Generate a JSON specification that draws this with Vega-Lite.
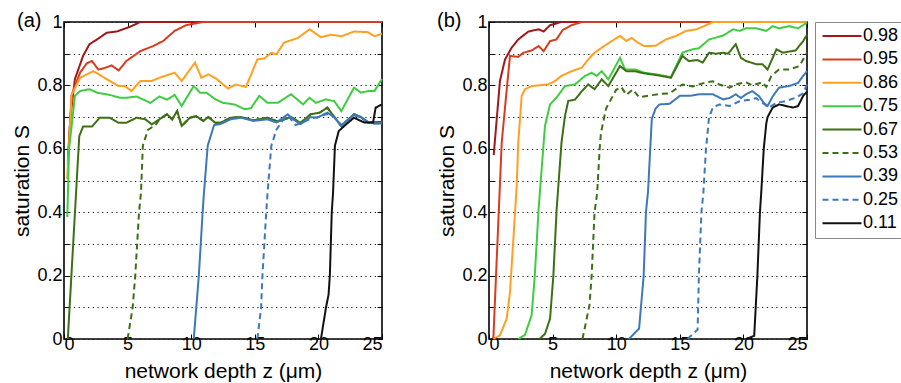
{
  "$schema": "https://vega.github.io/schema/vega-lite/v6.json",
  "padding": {"left": 11, "top": 10, "right": 0, "bottom": 0},
  "background": "white",
  "datasets": {
    "d": [
      {"p":"a","s":"0.98","z":0.3,"S":0.55},{"p":"a","s":"0.98","z":0.5,"S":0.7},{"p":"a","s":"0.98","z":0.86,"S":0.82},{"p":"a","s":"0.98","z":1.5,"S":0.893},{"p":"a","s":"0.98","z":2.0,"S":0.93},{"p":"a","s":"0.98","z":2.6,"S":0.945},{"p":"a","s":"0.98","z":3.35,"S":0.966},{"p":"a","s":"0.98","z":4.15,"S":0.97},{"p":"a","s":"0.98","z":4.5,"S":0.975},{"p":"a","s":"0.98","z":5.2,"S":0.985},{"p":"a","s":"0.98","z":6.0,"S":1.0},{"p":"a","s":"0.98","z":25,"S":1.0},
      {"p":"a","s":"0.95","z":0.3,"S":0.56},{"p":"a","s":"0.95","z":0.6,"S":0.77},{"p":"a","s":"0.95","z":1.26,"S":0.84},{"p":"a","s":"0.95","z":1.8,"S":0.87},{"p":"a","s":"0.95","z":2.2,"S":0.877},{"p":"a","s":"0.95","z":2.7,"S":0.85},{"p":"a","s":"0.95","z":3.2,"S":0.855},{"p":"a","s":"0.95","z":3.75,"S":0.863},{"p":"a","s":"0.95","z":4.3,"S":0.847},{"p":"a","s":"0.95","z":4.9,"S":0.877},{"p":"a","s":"0.95","z":6.0,"S":0.908},{"p":"a","s":"0.95","z":7.0,"S":0.924},{"p":"a","s":"0.95","z":7.8,"S":0.94},{"p":"a","s":"0.95","z":8.7,"S":0.972},{"p":"a","s":"0.95","z":9.6,"S":0.99},{"p":"a","s":"0.95","z":10.95,"S":1.0},{"p":"a","s":"0.95","z":25,"S":1.0},
      {"p":"a","s":"0.86","z":0.25,"S":0.505},{"p":"a","s":"0.86","z":0.6,"S":0.77},{"p":"a","s":"0.86","z":1.26,"S":0.824},{"p":"a","s":"0.86","z":2.3,"S":0.845},{"p":"a","s":"0.86","z":3.35,"S":0.82},{"p":"a","s":"0.86","z":4.3,"S":0.798},{"p":"a","s":"0.86","z":4.8,"S":0.798},{"p":"a","s":"0.86","z":5.3,"S":0.782},{"p":"a","s":"0.86","z":6.0,"S":0.814},{"p":"a","s":"0.86","z":6.9,"S":0.814},{"p":"a","s":"0.86","z":7.5,"S":0.824},{"p":"a","s":"0.86","z":8.3,"S":0.835},{"p":"a","s":"0.86","z":8.7,"S":0.84},{"p":"a","s":"0.86","z":9.25,"S":0.814},{"p":"a","s":"0.86","z":10.3,"S":0.872},{"p":"a","s":"0.86","z":10.8,"S":0.824},{"p":"a","s":"0.86","z":11.35,"S":0.835},{"p":"a","s":"0.86","z":12.0,"S":0.82},{"p":"a","s":"0.86","z":12.5,"S":0.803},{"p":"a","s":"0.86","z":12.9,"S":0.79},{"p":"a","s":"0.86","z":13.5,"S":0.803},{"p":"a","s":"0.86","z":14.3,"S":0.795},{"p":"a","s":"0.86","z":15.2,"S":0.882},{"p":"a","s":"0.86","z":15.75,"S":0.885},{"p":"a","s":"0.86","z":16.3,"S":0.903},{"p":"a","s":"0.86","z":16.7,"S":0.898},{"p":"a","s":"0.86","z":17.3,"S":0.935},{"p":"a","s":"0.86","z":18.4,"S":0.95},{"p":"a","s":"0.86","z":19.3,"S":0.977},{"p":"a","s":"0.86","z":20.2,"S":0.952},{"p":"a","s":"0.86","z":21.0,"S":0.96},{"p":"a","s":"0.86","z":21.8,"S":0.955},{"p":"a","s":"0.86","z":22.8,"S":0.97},{"p":"a","s":"0.86","z":23.9,"S":0.968},{"p":"a","s":"0.86","z":24.4,"S":0.955},{"p":"a","s":"0.86","z":25,"S":0.963},
      {"p":"a","s":"0.75","z":0.26,"S":0.385},{"p":"a","s":"0.75","z":0.4,"S":0.6},{"p":"a","s":"0.75","z":0.86,"S":0.767},{"p":"a","s":"0.75","z":1.26,"S":0.782},{"p":"a","s":"0.75","z":2.0,"S":0.788},{"p":"a","s":"0.75","z":2.6,"S":0.777},{"p":"a","s":"0.75","z":3.6,"S":0.77},{"p":"a","s":"0.75","z":4.4,"S":0.761},{"p":"a","s":"0.75","z":4.9,"S":0.761},{"p":"a","s":"0.75","z":5.7,"S":0.765},{"p":"a","s":"0.75","z":6.8,"S":0.745},{"p":"a","s":"0.75","z":7.5,"S":0.765},{"p":"a","s":"0.75","z":8.1,"S":0.755},{"p":"a","s":"0.75","z":8.7,"S":0.77},{"p":"a","s":"0.75","z":9.25,"S":0.735},{"p":"a","s":"0.75","z":10.2,"S":0.798},{"p":"a","s":"0.75","z":10.7,"S":0.777},{"p":"a","s":"0.75","z":11.2,"S":0.777},{"p":"a","s":"0.75","z":11.9,"S":0.756},{"p":"a","s":"0.75","z":12.5,"S":0.745},{"p":"a","s":"0.75","z":13.4,"S":0.74},{"p":"a","s":"0.75","z":14.2,"S":0.725},{"p":"a","s":"0.75","z":14.7,"S":0.728},{"p":"a","s":"0.75","z":15.35,"S":0.767},{"p":"a","s":"0.75","z":16.0,"S":0.745},{"p":"a","s":"0.75","z":16.8,"S":0.745},{"p":"a","s":"0.75","z":17.85,"S":0.772},{"p":"a","s":"0.75","z":18.8,"S":0.74},{"p":"a","s":"0.75","z":19.3,"S":0.761},{"p":"a","s":"0.75","z":19.8,"S":0.745},{"p":"a","s":"0.75","z":20.6,"S":0.756},{"p":"a","s":"0.75","z":21.25,"S":0.75},{"p":"a","s":"0.75","z":21.8,"S":0.719},{"p":"a","s":"0.75","z":22.8,"S":0.793},{"p":"a","s":"0.75","z":23.35,"S":0.777},{"p":"a","s":"0.75","z":23.9,"S":0.782},{"p":"a","s":"0.75","z":24.4,"S":0.782},{"p":"a","s":"0.75","z":25,"S":0.82},
      {"p":"a","s":"0.67","z":0.3,"S":0},{"p":"a","s":"0.67","z":1.2,"S":0.64},{"p":"a","s":"0.67","z":1.5,"S":0.67},{"p":"a","s":"0.67","z":2.2,"S":0.67},{"p":"a","s":"0.67","z":2.8,"S":0.698},{"p":"a","s":"0.67","z":3.6,"S":0.698},{"p":"a","s":"0.67","z":4.3,"S":0.682},{"p":"a","s":"0.67","z":4.9,"S":0.682},{"p":"a","s":"0.67","z":5.7,"S":0.698},{"p":"a","s":"0.67","z":6.4,"S":0.693},{"p":"a","s":"0.67","z":6.9,"S":0.677},{"p":"a","s":"0.67","z":7.5,"S":0.693},{"p":"a","s":"0.67","z":8.1,"S":0.709},{"p":"a","s":"0.67","z":8.5,"S":0.693},{"p":"a","s":"0.67","z":8.9,"S":0.719},{"p":"a","s":"0.67","z":9.25,"S":0.672},{"p":"a","s":"0.67","z":9.9,"S":0.698},{"p":"a","s":"0.67","z":10.4,"S":0.703},{"p":"a","s":"0.67","z":10.95,"S":0.688},{"p":"a","s":"0.67","z":11.35,"S":0.7},{"p":"a","s":"0.67","z":11.9,"S":0.682},{"p":"a","s":"0.67","z":12.3,"S":0.682},{"p":"a","s":"0.67","z":13.1,"S":0.698},{"p":"a","s":"0.67","z":13.9,"S":0.7},{"p":"a","s":"0.67","z":14.9,"S":0.69},{"p":"a","s":"0.67","z":16.0,"S":0.698},{"p":"a","s":"0.67","z":16.8,"S":0.686},{"p":"a","s":"0.67","z":17.85,"S":0.7},{"p":"a","s":"0.67","z":18.6,"S":0.682},{"p":"a","s":"0.67","z":19.4,"S":0.709},{"p":"a","s":"0.67","z":20.1,"S":0.714},{"p":"a","s":"0.67","z":20.7,"S":0.73},{"p":"a","s":"0.67","z":21.25,"S":0.7},{"p":"a","s":"0.67","z":21.8,"S":0.672},{"p":"a","s":"0.67","z":22.8,"S":0.709},{"p":"a","s":"0.67","z":23.35,"S":0.7},{"p":"a","s":"0.67","z":23.9,"S":0.683},{"p":"a","s":"0.67","z":25,"S":0.685},
      {"p":"a","s":"0.53","z":5.0,"S":0},{"p":"a","s":"0.53","z":5.4,"S":0.1},{"p":"a","s":"0.53","z":5.6,"S":0.2},{"p":"a","s":"0.53","z":5.9,"S":0.4},{"p":"a","s":"0.53","z":6.05,"S":0.46},{"p":"a","s":"0.53","z":6.2,"S":0.61},{"p":"a","s":"0.53","z":6.6,"S":0.66},{"p":"a","s":"0.53","z":7.2,"S":0.675},{"p":"a","s":"0.53","z":7.5,"S":0.693},{"p":"a","s":"0.53","z":8.1,"S":0.709},{"p":"a","s":"0.53","z":8.5,"S":0.693},{"p":"a","s":"0.53","z":8.9,"S":0.719},{"p":"a","s":"0.53","z":9.25,"S":0.672},{"p":"a","s":"0.53","z":9.9,"S":0.698},{"p":"a","s":"0.53","z":10.4,"S":0.703},{"p":"a","s":"0.53","z":10.95,"S":0.688},{"p":"a","s":"0.53","z":11.35,"S":0.7},{"p":"a","s":"0.53","z":11.9,"S":0.682},{"p":"a","s":"0.53","z":12.3,"S":0.682},{"p":"a","s":"0.53","z":13.1,"S":0.698},{"p":"a","s":"0.53","z":13.9,"S":0.7},{"p":"a","s":"0.53","z":14.9,"S":0.69},{"p":"a","s":"0.53","z":16.0,"S":0.698},{"p":"a","s":"0.53","z":16.8,"S":0.686},{"p":"a","s":"0.53","z":17.85,"S":0.7},{"p":"a","s":"0.53","z":18.6,"S":0.682},{"p":"a","s":"0.53","z":19.4,"S":0.709},{"p":"a","s":"0.53","z":20.1,"S":0.714},{"p":"a","s":"0.53","z":20.7,"S":0.73},{"p":"a","s":"0.53","z":21.25,"S":0.7},{"p":"a","s":"0.53","z":21.8,"S":0.672},{"p":"a","s":"0.53","z":22.8,"S":0.709},{"p":"a","s":"0.53","z":23.35,"S":0.7},{"p":"a","s":"0.53","z":23.9,"S":0.683},{"p":"a","s":"0.53","z":25,"S":0.685},
      {"p":"a","s":"0.39","z":10.2,"S":0},{"p":"a","s":"0.39","z":10.6,"S":0.2},{"p":"a","s":"0.39","z":10.9,"S":0.4},{"p":"a","s":"0.39","z":11.0,"S":0.46},{"p":"a","s":"0.39","z":11.3,"S":0.61},{"p":"a","s":"0.39","z":11.8,"S":0.675},{"p":"a","s":"0.39","z":12.3,"S":0.678},{"p":"a","s":"0.39","z":13.1,"S":0.693},{"p":"a","s":"0.39","z":13.9,"S":0.698},{"p":"a","s":"0.39","z":14.9,"S":0.688},{"p":"a","s":"0.39","z":16.0,"S":0.693},{"p":"a","s":"0.39","z":16.7,"S":0.683},{"p":"a","s":"0.39","z":17.6,"S":0.709},{"p":"a","s":"0.39","z":18.0,"S":0.693},{"p":"a","s":"0.39","z":18.6,"S":0.678},{"p":"a","s":"0.39","z":19.4,"S":0.7},{"p":"a","s":"0.39","z":19.9,"S":0.698},{"p":"a","s":"0.39","z":20.7,"S":0.714},{"p":"a","s":"0.39","z":21.25,"S":0.7},{"p":"a","s":"0.39","z":21.8,"S":0.672},{"p":"a","s":"0.39","z":22.8,"S":0.709},{"p":"a","s":"0.39","z":23.35,"S":0.7},{"p":"a","s":"0.39","z":23.9,"S":0.683},{"p":"a","s":"0.39","z":24.4,"S":0.68},{"p":"a","s":"0.39","z":25,"S":0.68},
      {"p":"a","s":"0.25","z":15.2,"S":0},{"p":"a","s":"0.25","z":15.5,"S":0.1},{"p":"a","s":"0.25","z":15.6,"S":0.2},{"p":"a","s":"0.25","z":15.9,"S":0.4},{"p":"a","s":"0.25","z":16.0,"S":0.46},{"p":"a","s":"0.25","z":16.3,"S":0.61},{"p":"a","s":"0.25","z":16.7,"S":0.66},{"p":"a","s":"0.25","z":17.2,"S":0.69},{"p":"a","s":"0.25","z":17.6,"S":0.705},{"p":"a","s":"0.25","z":18.2,"S":0.675},{"p":"a","s":"0.25","z":18.6,"S":0.68},{"p":"a","s":"0.25","z":19.4,"S":0.695},{"p":"a","s":"0.25","z":19.9,"S":0.7},{"p":"a","s":"0.25","z":20.7,"S":0.71},{"p":"a","s":"0.25","z":21.25,"S":0.7},{"p":"a","s":"0.25","z":21.8,"S":0.675},{"p":"a","s":"0.25","z":22.8,"S":0.705},{"p":"a","s":"0.25","z":23.35,"S":0.7},{"p":"a","s":"0.25","z":23.9,"S":0.685},{"p":"a","s":"0.25","z":24.4,"S":0.68},{"p":"a","s":"0.25","z":25,"S":0.68},
      {"p":"a","s":"0.11","z":20.2,"S":0},{"p":"a","s":"0.11","z":20.6,"S":0.1},{"p":"a","s":"0.11","z":20.8,"S":0.14},{"p":"a","s":"0.11","z":20.9,"S":0.2},{"p":"a","s":"0.11","z":21.05,"S":0.4},{"p":"a","s":"0.11","z":21.15,"S":0.46},{"p":"a","s":"0.11","z":21.3,"S":0.61},{"p":"a","s":"0.11","z":21.6,"S":0.656},{"p":"a","s":"0.11","z":22.2,"S":0.678},{"p":"a","s":"0.11","z":22.8,"S":0.698},{"p":"a","s":"0.11","z":23.6,"S":0.683},{"p":"a","s":"0.11","z":24.3,"S":0.683},{"p":"a","s":"0.11","z":24.5,"S":0.73},{"p":"a","s":"0.11","z":25,"S":0.74},
      {"p":"b","s":"0.98","z":0.37,"S":0.58},{"p":"b","s":"0.98","z":0.86,"S":0.814},{"p":"b","s":"0.98","z":1.26,"S":0.882},{"p":"b","s":"0.98","z":1.78,"S":0.919},{"p":"b","s":"0.98","z":2.3,"S":0.945},{"p":"b","s":"0.98","z":3.1,"S":0.97},{"p":"b","s":"0.98","z":3.9,"S":0.977},{"p":"b","s":"0.98","z":4.3,"S":0.97},{"p":"b","s":"0.98","z":4.8,"S":0.99},{"p":"b","s":"0.98","z":5.7,"S":1.0},{"p":"b","s":"0.98","z":25,"S":1.0},
      {"p":"b","s":"0.95","z":0.34,"S":0},{"p":"b","s":"0.95","z":1.0,"S":0.62},{"p":"b","s":"0.95","z":1.4,"S":0.79},{"p":"b","s":"0.95","z":1.65,"S":0.893},{"p":"b","s":"0.95","z":2.3,"S":0.89},{"p":"b","s":"0.95","z":2.7,"S":0.903},{"p":"b","s":"0.95","z":3.35,"S":0.91},{"p":"b","s":"0.95","z":3.9,"S":0.924},{"p":"b","s":"0.95","z":4.3,"S":0.908},{"p":"b","s":"0.95","z":4.8,"S":0.94},{"p":"b","s":"0.95","z":5.3,"S":0.945},{"p":"b","s":"0.95","z":5.8,"S":0.975},{"p":"b","s":"0.95","z":6.5,"S":0.99},{"p":"b","s":"0.95","z":7.3,"S":1.0},{"p":"b","s":"0.95","z":25,"S":1.0},
      {"p":"b","s":"0.86","z":0.34,"S":0},{"p":"b","s":"0.86","z":0.86,"S":0.012},{"p":"b","s":"0.86","z":1.39,"S":0.064},{"p":"b","s":"0.86","z":1.65,"S":0.148},{"p":"b","s":"0.86","z":1.9,"S":0.306},{"p":"b","s":"0.86","z":2.18,"S":0.485},{"p":"b","s":"0.86","z":2.3,"S":0.62},{"p":"b","s":"0.86","z":2.57,"S":0.767},{"p":"b","s":"0.86","z":2.83,"S":0.788},{"p":"b","s":"0.86","z":3.35,"S":0.798},{"p":"b","s":"0.86","z":4.66,"S":0.803},{"p":"b","s":"0.86","z":5.2,"S":0.814},{"p":"b","s":"0.86","z":5.7,"S":0.83},{"p":"b","s":"0.86","z":6.5,"S":0.845},{"p":"b","s":"0.86","z":7.3,"S":0.856},{"p":"b","s":"0.86","z":7.8,"S":0.882},{"p":"b","s":"0.86","z":8.3,"S":0.903},{"p":"b","s":"0.86","z":8.86,"S":0.919},{"p":"b","s":"0.86","z":9.65,"S":0.94},{"p":"b","s":"0.86","z":10.3,"S":0.956},{"p":"b","s":"0.86","z":10.8,"S":0.94},{"p":"b","s":"0.86","z":11.2,"S":0.95},{"p":"b","s":"0.86","z":11.7,"S":0.935},{"p":"b","s":"0.86","z":12.2,"S":0.924},{"p":"b","s":"0.86","z":13.1,"S":0.925},{"p":"b","s":"0.86","z":13.9,"S":0.945},{"p":"b","s":"0.86","z":14.7,"S":0.956},{"p":"b","s":"0.86","z":15.5,"S":0.972},{"p":"b","s":"0.86","z":16.3,"S":0.977},{"p":"b","s":"0.86","z":16.9,"S":0.987},{"p":"b","s":"0.86","z":17.6,"S":1.0},{"p":"b","s":"0.86","z":25,"S":1.0},
      {"p":"b","s":"0.75","z":2.3,"S":0},{"p":"b","s":"0.75","z":2.83,"S":0.013},{"p":"b","s":"0.75","z":3.35,"S":0.075},{"p":"b","s":"0.75","z":3.6,"S":0.2},{"p":"b","s":"0.75","z":3.9,"S":0.41},{"p":"b","s":"0.75","z":4.3,"S":0.62},{"p":"b","s":"0.75","z":4.4,"S":0.672},{"p":"b","s":"0.75","z":4.8,"S":0.74},{"p":"b","s":"0.75","z":5.3,"S":0.761},{"p":"b","s":"0.75","z":5.97,"S":0.798},{"p":"b","s":"0.75","z":6.76,"S":0.803},{"p":"b","s":"0.75","z":7.55,"S":0.83},{"p":"b","s":"0.75","z":8.07,"S":0.84},{"p":"b","s":"0.75","z":8.47,"S":0.83},{"p":"b","s":"0.75","z":8.86,"S":0.845},{"p":"b","s":"0.75","z":9.38,"S":0.819},{"p":"b","s":"0.75","z":10.3,"S":0.887},{"p":"b","s":"0.75","z":10.7,"S":0.85},{"p":"b","s":"0.75","z":11.5,"S":0.85},{"p":"b","s":"0.75","z":12.2,"S":0.84},{"p":"b","s":"0.75","z":13.1,"S":0.835},{"p":"b","s":"0.75","z":13.8,"S":0.83},{"p":"b","s":"0.75","z":14.3,"S":0.826},{"p":"b","s":"0.75","z":15.2,"S":0.903},{"p":"b","s":"0.75","z":16.0,"S":0.914},{"p":"b","s":"0.75","z":16.5,"S":0.917},{"p":"b","s":"0.75","z":17.3,"S":0.945},{"p":"b","s":"0.75","z":18.4,"S":0.957},{"p":"b","s":"0.75","z":19.2,"S":0.977},{"p":"b","s":"0.75","z":19.7,"S":0.972},{"p":"b","s":"0.75","z":20.2,"S":0.98},{"p":"b","s":"0.75","z":21.0,"S":0.98},{"p":"b","s":"0.75","z":21.8,"S":0.972},{"p":"b","s":"0.75","z":22.3,"S":0.987},{"p":"b","s":"0.75","z":22.8,"S":0.98},{"p":"b","s":"0.75","z":23.6,"S":0.987},{"p":"b","s":"0.75","z":24.3,"S":0.98},{"p":"b","s":"0.75","z":25,"S":0.998},
      {"p":"b","s":"0.67","z":3.97,"S":0},{"p":"b","s":"0.67","z":4.4,"S":0.016},{"p":"b","s":"0.67","z":4.8,"S":0.064},{"p":"b","s":"0.67","z":5.06,"S":0.2},{"p":"b","s":"0.67","z":5.32,"S":0.41},{"p":"b","s":"0.67","z":5.7,"S":0.62},{"p":"b","s":"0.67","z":5.97,"S":0.703},{"p":"b","s":"0.67","z":6.23,"S":0.751},{"p":"b","s":"0.67","z":6.76,"S":0.755},{"p":"b","s":"0.67","z":7.3,"S":0.782},{"p":"b","s":"0.67","z":7.8,"S":0.803},{"p":"b","s":"0.67","z":8.3,"S":0.788},{"p":"b","s":"0.67","z":8.86,"S":0.819},{"p":"b","s":"0.67","z":9.38,"S":0.798},{"p":"b","s":"0.67","z":10.3,"S":0.861},{"p":"b","s":"0.67","z":10.8,"S":0.845},{"p":"b","s":"0.67","z":11.45,"S":0.845},{"p":"b","s":"0.67","z":12.2,"S":0.838},{"p":"b","s":"0.67","z":13.1,"S":0.833},{"p":"b","s":"0.67","z":13.8,"S":0.828},{"p":"b","s":"0.67","z":14.3,"S":0.824},{"p":"b","s":"0.67","z":15.2,"S":0.893},{"p":"b","s":"0.67","z":15.7,"S":0.877},{"p":"b","s":"0.67","z":16.4,"S":0.88},{"p":"b","s":"0.67","z":16.8,"S":0.872},{"p":"b","s":"0.67","z":17.3,"S":0.903},{"p":"b","s":"0.67","z":17.85,"S":0.9},{"p":"b","s":"0.67","z":18.4,"S":0.903},{"p":"b","s":"0.67","z":18.8,"S":0.9},{"p":"b","s":"0.67","z":19.4,"S":0.93},{"p":"b","s":"0.67","z":19.8,"S":0.887},{"p":"b","s":"0.67","z":20.2,"S":0.877},{"p":"b","s":"0.67","z":21.0,"S":0.867},{"p":"b","s":"0.67","z":21.5,"S":0.867},{"p":"b","s":"0.67","z":21.9,"S":0.85},{"p":"b","s":"0.67","z":22.6,"S":0.914},{"p":"b","s":"0.67","z":23.1,"S":0.903},{"p":"b","s":"0.67","z":23.6,"S":0.907},{"p":"b","s":"0.67","z":24.1,"S":0.91},{"p":"b","s":"0.67","z":24.7,"S":0.94},{"p":"b","s":"0.67","z":25,"S":0.96},
      {"p":"b","s":"0.53","z":7.35,"S":0},{"p":"b","s":"0.53","z":7.9,"S":0.107},{"p":"b","s":"0.53","z":8.07,"S":0.2},{"p":"b","s":"0.53","z":8.3,"S":0.4},{"p":"b","s":"0.53","z":8.5,"S":0.46},{"p":"b","s":"0.53","z":8.7,"S":0.6},{"p":"b","s":"0.53","z":8.8,"S":0.65},{"p":"b","s":"0.53","z":9.2,"S":0.727},{"p":"b","s":"0.53","z":10.0,"S":0.786},{"p":"b","s":"0.53","z":10.4,"S":0.795},{"p":"b","s":"0.53","z":10.8,"S":0.77},{"p":"b","s":"0.53","z":11.3,"S":0.787},{"p":"b","s":"0.53","z":11.8,"S":0.763},{"p":"b","s":"0.53","z":12.6,"S":0.768},{"p":"b","s":"0.53","z":13.4,"S":0.773},{"p":"b","s":"0.53","z":14.2,"S":0.775},{"p":"b","s":"0.53","z":15.2,"S":0.803},{"p":"b","s":"0.53","z":16.0,"S":0.797},{"p":"b","s":"0.53","z":17.1,"S":0.81},{"p":"b","s":"0.53","z":17.6,"S":0.813},{"p":"b","s":"0.53","z":18.1,"S":0.803},{"p":"b","s":"0.53","z":18.9,"S":0.793},{"p":"b","s":"0.53","z":19.4,"S":0.803},{"p":"b","s":"0.53","z":20.2,"S":0.81},{"p":"b","s":"0.53","z":20.7,"S":0.8},{"p":"b","s":"0.53","z":21.5,"S":0.81},{"p":"b","s":"0.53","z":21.8,"S":0.795},{"p":"b","s":"0.53","z":22.2,"S":0.83},{"p":"b","s":"0.53","z":22.8,"S":0.85},{"p":"b","s":"0.53","z":23.6,"S":0.85},{"p":"b","s":"0.53","z":24.4,"S":0.861},{"p":"b","s":"0.53","z":25,"S":0.903},
      {"p":"b","s":"0.39","z":11.0,"S":0},{"p":"b","s":"0.39","z":11.8,"S":0.033},{"p":"b","s":"0.39","z":12.16,"S":0.2},{"p":"b","s":"0.39","z":12.34,"S":0.4},{"p":"b","s":"0.39","z":12.5,"S":0.464},{"p":"b","s":"0.39","z":12.8,"S":0.695},{"p":"b","s":"0.39","z":13.1,"S":0.727},{"p":"b","s":"0.39","z":13.4,"S":0.74},{"p":"b","s":"0.39","z":14.2,"S":0.742},{"p":"b","s":"0.39","z":15.0,"S":0.767},{"p":"b","s":"0.39","z":15.8,"S":0.767},{"p":"b","s":"0.39","z":16.5,"S":0.772},{"p":"b","s":"0.39","z":17.6,"S":0.772},{"p":"b","s":"0.39","z":18.4,"S":0.756},{"p":"b","s":"0.39","z":18.9,"S":0.76},{"p":"b","s":"0.39","z":19.4,"S":0.772},{"p":"b","s":"0.39","z":19.8,"S":0.76},{"p":"b","s":"0.39","z":20.2,"S":0.772},{"p":"b","s":"0.39","z":20.7,"S":0.782},{"p":"b","s":"0.39","z":21.25,"S":0.765},{"p":"b","s":"0.39","z":21.6,"S":0.745},{"p":"b","s":"0.39","z":21.9,"S":0.735},{"p":"b","s":"0.39","z":22.3,"S":0.765},{"p":"b","s":"0.39","z":22.8,"S":0.793},{"p":"b","s":"0.39","z":23.6,"S":0.798},{"p":"b","s":"0.39","z":24.3,"S":0.808},{"p":"b","s":"0.39","z":24.7,"S":0.83},{"p":"b","s":"0.39","z":25,"S":0.845},
      {"p":"b","s":"0.25","z":15.6,"S":0},{"p":"b","s":"0.25","z":16.4,"S":0.03},{"p":"b","s":"0.25","z":16.5,"S":0.2},{"p":"b","s":"0.25","z":16.7,"S":0.4},{"p":"b","s":"0.25","z":16.85,"S":0.46},{"p":"b","s":"0.25","z":17.06,"S":0.6},{"p":"b","s":"0.25","z":17.3,"S":0.7},{"p":"b","s":"0.25","z":17.6,"S":0.73},{"p":"b","s":"0.25","z":18.1,"S":0.74},{"p":"b","s":"0.25","z":18.9,"S":0.735},{"p":"b","s":"0.25","z":19.7,"S":0.75},{"p":"b","s":"0.25","z":20.5,"S":0.755},{"p":"b","s":"0.25","z":21.0,"S":0.76},{"p":"b","s":"0.25","z":21.6,"S":0.742},{"p":"b","s":"0.25","z":22.0,"S":0.73},{"p":"b","s":"0.25","z":22.6,"S":0.745},{"p":"b","s":"0.25","z":23.3,"S":0.75},{"p":"b","s":"0.25","z":24.1,"S":0.761},{"p":"b","s":"0.25","z":24.7,"S":0.775},{"p":"b","s":"0.25","z":25,"S":0.803},
      {"p":"b","s":"0.11","z":20.2,"S":0},{"p":"b","s":"0.11","z":20.85,"S":0.01},{"p":"b","s":"0.11","z":21.1,"S":0.2},{"p":"b","s":"0.11","z":21.3,"S":0.4},{"p":"b","s":"0.11","z":21.4,"S":0.46},{"p":"b","s":"0.11","z":21.6,"S":0.6},{"p":"b","s":"0.11","z":21.8,"S":0.68},{"p":"b","s":"0.11","z":21.9,"S":0.7},{"p":"b","s":"0.11","z":22.3,"S":0.73},{"p":"b","s":"0.11","z":22.8,"S":0.74},{"p":"b","s":"0.11","z":23.35,"S":0.735},{"p":"b","s":"0.11","z":23.9,"S":0.73},{"p":"b","s":"0.11","z":24.3,"S":0.735},{"p":"b","s":"0.11","z":24.7,"S":0.767},{"p":"b","s":"0.11","z":25,"S":0.78}
    ]
  },
  "data": {"name": "d"},
  "spacing": 49,
  "hconcat": [
    {
      "title": {"text": "(a)", "anchor": "start", "frame": "bounds", "fontSize": 20, "fontWeight": "normal", "dx": 5, "offset": -18},
      "width": 318,
      "height": 317,
      "transform": [{"filter": "datum.p == 'a'"}],
      "resolve": {"axis": {"x": "independent", "y": "independent"}},
      "layer": [
        {
          "mark": {"type": "line", "strokeWidth": 2, "clip": false},
          "encoding": {
            "x": {"field": "z", "type": "quantitative", "scale": {"domain": [0, 25], "nice": false}, "axis": {"orient": "bottom", "values": [0, 5, 10, 15, 20, 25], "title": "network depth z (μm)", "labelPadding": 1, "titlePadding": 7}},
            "y": {"field": "S", "type": "quantitative", "scale": {"domain": [0, 1], "nice": false}, "axis": {"orient": "left", "values": [0, 0.1, 0.2, 0.3, 0.4, 0.5, 0.6, 0.7, 0.8, 0.9, 1], "format": "~g", "labelExpr": "round(datum.value * 10) % 2 == 0 ? datum.label : ''", "grid": true, "title": "saturation S", "labelPadding": 7, "titlePadding": 4}},
            "color": {"field": "s", "type": "nominal", "title": null, "scale": {"domain": ["0.98", "0.95", "0.86", "0.75", "0.67", "0.53", "0.39", "0.25", "0.11"], "range": ["#a0181a", "#d83c1e", "#ffa020", "#40cc40", "#3d7015", "#3d7015", "#3d78b8", "#3d78b8", "#111111"]}},
            "strokeDash": {"field": "s", "type": "nominal", "title": null, "scale": {"domain": ["0.98", "0.95", "0.86", "0.75", "0.67", "0.53", "0.39", "0.25", "0.11"], "range": [[1, 0], [1, 0], [1, 0], [1, 0], [1, 0], [6, 4], [1, 0], [6, 4], [1, 0]]}}
          }
        },
        {
          "mark": {"type": "line", "strokeOpacity": 0},
          "encoding": {
            "x": {"field": "z", "type": "quantitative", "axis": {"orient": "top", "values": [0, 5, 10, 15, 20, 25], "labels": false, "title": null}},
            "y": {"field": "S", "type": "quantitative", "axis": {"orient": "right", "values": [0, 0.1, 0.2, 0.3, 0.4, 0.5, 0.6, 0.7, 0.8, 0.9, 1], "labels": false, "title": null}}
          }
        }
      ]
    },
    {
      "title": {"text": "(b)", "anchor": "start", "frame": "bounds", "fontSize": 20, "fontWeight": "normal", "dx": 0, "offset": -18},
      "width": 318,
      "height": 317,
      "transform": [{"filter": "datum.p == 'b'"}],
      "resolve": {"axis": {"x": "independent", "y": "independent"}},
      "layer": [
        {
          "mark": {"type": "line", "strokeWidth": 2, "clip": false},
          "encoding": {
            "x": {"field": "z", "type": "quantitative", "scale": {"domain": [0, 25], "nice": false}, "axis": {"orient": "bottom", "values": [0, 5, 10, 15, 20, 25], "title": "network depth z (μm)", "labelPadding": 1, "titlePadding": 7}},
            "y": {"field": "S", "type": "quantitative", "scale": {"domain": [0, 1], "nice": false}, "axis": {"orient": "left", "values": [0, 0.1, 0.2, 0.3, 0.4, 0.5, 0.6, 0.7, 0.8, 0.9, 1], "format": "~g", "labelExpr": "round(datum.value * 10) % 2 == 0 ? datum.label : ''", "grid": true, "title": "saturation S", "labelPadding": 7, "titlePadding": 4}},
            "color": {"field": "s", "type": "nominal", "title": null, "scale": {"domain": ["0.98", "0.95", "0.86", "0.75", "0.67", "0.53", "0.39", "0.25", "0.11"], "range": ["#a0181a", "#d83c1e", "#ffa020", "#40cc40", "#3d7015", "#3d7015", "#3d78b8", "#3d78b8", "#111111"]}},
            "strokeDash": {"field": "s", "type": "nominal", "title": null, "scale": {"domain": ["0.98", "0.95", "0.86", "0.75", "0.67", "0.53", "0.39", "0.25", "0.11"], "range": [[1, 0], [1, 0], [1, 0], [1, 0], [1, 0], [6, 4], [1, 0], [6, 4], [1, 0]]}}
          }
        },
        {
          "mark": {"type": "line", "strokeOpacity": 0},
          "encoding": {
            "x": {"field": "z", "type": "quantitative", "axis": {"orient": "top", "values": [0, 5, 10, 15, 20, 25], "labels": false, "title": null}},
            "y": {"field": "S", "type": "quantitative", "axis": {"orient": "right", "values": [0, 0.1, 0.2, 0.3, 0.4, 0.5, 0.6, 0.7, 0.8, 0.9, 1], "labels": false, "title": null}}
          }
        }
      ]
    }
  ],
  "config": {
    "font": "Liberation Sans",
    "view": {"stroke": "black", "strokeWidth": 1.6},
    "axis": {
      "domain": false,
      "grid": false,
      "labelFontSize": 18,
      "labelColor": "black",
      "titleFontSize": 21,
      "titleFontWeight": "normal",
      "titleColor": "black",
      "tickColor": "black",
      "tickSize": -5,
      "tickWidth": 1,
      "gridColor": "#222222",
      "gridDash": [1.3, 3.4],
      "gridWidth": 1
    },
    "legend": {
      "orient": "right",
      "offset": 3,
      "strokeColor": "#888888",
      "fillColor": "white",
      "padding": 5,
      "labelFontSize": 18,
      "labelColor": "black",
      "symbolType": "M-1,0H5",
      "symbolSize": 169,
      "symbolStrokeWidth": 2,
      "labelOffset": 25,
      "rowPadding": 5.4
    },
    "title": {"color": "black"}
  }
}
